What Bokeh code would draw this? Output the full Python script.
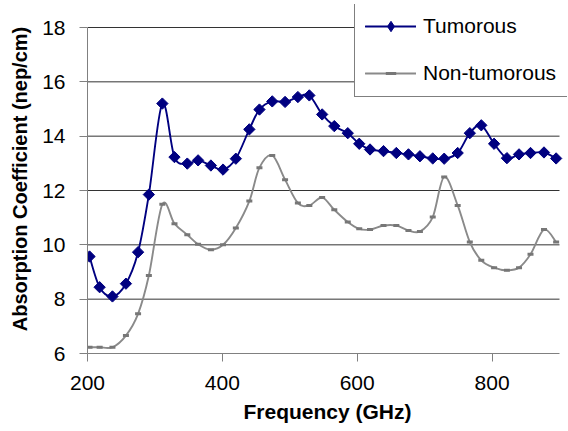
import numpy as np
from bokeh.plotting import figure
from bokeh.models import Range1d, FixedTicker, Legend, LegendItem, ColumnDataSource
from bokeh.embed import file_html
from bokeh.resources import INLINE

# ---- data ----
freq_ghz = [203, 218, 237, 257, 275, 291, 311, 329, 348, 364, 383, 401, 420,
            440, 455, 474, 493, 512, 529, 548, 566, 586, 603, 619, 639, 658,
            676, 693, 712, 729, 749, 767, 784, 803, 822, 840, 857, 877, 895]
tumorous = [9.57, 8.44, 8.10, 8.57, 9.73, 11.85, 15.20, 13.23, 12.99, 13.11,
            12.92, 12.77, 13.17, 14.25, 14.98, 15.28, 15.26, 15.44, 15.50,
            14.80, 14.37, 14.11, 13.72, 13.51, 13.45, 13.38, 13.33, 13.26,
            13.18, 13.17, 13.38, 14.11, 14.40, 13.72, 13.19, 13.33, 13.38,
            13.40, 13.18]
non_tumorous = [6.23, 6.23, 6.23, 6.66, 7.46, 8.87, 11.49, 10.78, 10.37, 10.02,
                9.82, 10.00, 10.62, 11.61, 12.84, 13.29, 12.40, 11.54, 11.45,
                11.74, 11.29, 10.84, 10.59, 10.56, 10.71, 10.71, 10.53, 10.49,
                11.02, 12.50, 11.45, 10.10, 9.43, 9.16, 9.06, 9.16, 9.65,
                10.56, 10.10]
x_ticks = [200, 400, 600, 800]
y_ticks = [6, 8, 10, 12, 14, 16, 18]
series_names = ["Tumorous", "Non-tumorous"]

# axis spans (the plotting area of the original chart)
X_MIN, X_MAX = 200, 900
Y_MIN, Y_MAX = 6, 18
# the frame is stretched a little up/right so that the legend box, which sits
# partly above/right of the axes in the original, is not clipped
X_VIEW_MAX = X_MIN + (X_MAX - X_MIN) * 480 / 472
Y_VIEW_MAX = Y_MIN + (Y_MAX - Y_MIN) * 349 / 326

FONT = "Liberation Sans"
NAVY = "#000080"


def smooth_source(x, y):
    """Bezier segments through the data points (Excel-like smoothed line)."""
    x = np.asarray(x, float)
    y = np.asarray(y, float)
    n = len(x)
    xp = np.concatenate([[x[0]], x, [x[-1]]])
    yp = np.concatenate([[y[0]], y, [y[-1]]])
    return ColumnDataSource(dict(
        x0=x[:-1], y0=y[:-1], x1=x[1:], y1=y[1:],
        cx0=x[:-1] + (xp[2:n + 1] - xp[0:n - 1]) / 6.0,
        cy0=y[:-1] + (yp[2:n + 1] - yp[0:n - 1]) / 6.0,
        cx1=x[1:] - (xp[3:n + 2] - xp[1:n]) / 6.0,
        cy1=y[1:] - (yp[3:n + 2] - yp[1:n]) / 6.0,
    ))


p = figure(width=568, height=431, output_backend="svg", toolbar_location=None,
           x_range=Range1d(X_MIN, X_VIEW_MAX), y_range=Range1d(Y_MIN, Y_VIEW_MAX),
           min_border_left=87, min_border_right=1,
           min_border_top=4, min_border_bottom=78)
p.outline_line_color = None
p.background_fill_color = "white"
p.border_fill_color = "white"

p.xgrid.visible = False
p.ygrid.visible = False
grid_levels = [v for v in y_ticks if v != Y_MIN]
p.segment(x0=[X_MIN] * len(grid_levels), x1=[X_MAX] * len(grid_levels),
          y0=grid_levels, y1=grid_levels, line_color="#333333", line_width=1)

p.xaxis.ticker = FixedTicker(ticks=x_ticks)
p.yaxis.ticker = FixedTicker(ticks=y_ticks)
p.xaxis.bounds = (X_MIN, X_MAX)
p.yaxis.bounds = (Y_MIN, Y_MAX)
for ax in (p.xaxis, p.yaxis):
    ax.axis_line_color = "#808080"
    ax.axis_line_width = 1
    ax.major_tick_line_color = "#808080"
    ax.major_tick_out = 8
    ax.major_tick_in = 0
    ax.minor_tick_line_color = None
    ax.major_label_text_font = FONT
    ax.major_label_text_font_size = "21px"
    ax.major_label_text_color = "black"
    ax.axis_label_text_font = FONT
    ax.axis_label_text_font_style = "bold"
    ax.axis_label_text_color = "black"

p.xaxis.axis_label = "Frequency (GHz)"
p.xaxis.axis_label_text_font_size = "21px"
p.xaxis.major_label_standoff = 14
p.xaxis.axis_label_standoff = 7
p.yaxis.axis_label = "Absorption Coefficient (nep/cm)"
p.yaxis.axis_label_text_font_size = "20px"
p.yaxis.major_label_standoff = 14
p.yaxis.axis_label_standoff = 8

# Tumorous
t_curve = p.bezier("x0", "y0", "x1", "y1", "cx0", "cy0", "cx1", "cy1",
                   source=smooth_source(freq_ghz, tumorous),
                   line_color=NAVY, line_width=1.9, line_cap="round")
t_pts = p.scatter(freq_ghz, tumorous, marker="square", angle=np.pi / 4, size=8,
                  fill_color=NAVY, line_color=NAVY)
# legend swatch: a diamond key (zero size in the plot, sized by the legend)
t_key = p.scatter(freq_ghz, tumorous, marker="diamond", size=0,
                  fill_color=NAVY, line_color=NAVY)

# Non-tumorous
n_curve = p.bezier("x0", "y0", "x1", "y1", "cx0", "cy0", "cx1", "cy1",
                   source=smooth_source(freq_ghz, non_tumorous),
                   line_color="#8a8a8a", line_width=1.9, line_cap="round")
n_pts = p.scatter(freq_ghz, non_tumorous, marker="dash", size=6, line_width=3,
                  line_color="#777777")

legend = Legend(items=[LegendItem(label=series_names[0], renderers=[t_curve, t_key]),
                       LegendItem(label=series_names[1], renderers=[n_curve, n_pts])],
                location=(267, 256), margin=0, padding=10, spacing=21,
                glyph_width=51, glyph_height=26, label_height=26, label_width=135,
                label_standoff=7,
                label_text_font=FONT, label_text_font_size="21px",
                label_text_color="black",
                border_line_color="black", border_line_width=1,
                background_fill_color="white", background_fill_alpha=1.0)
p.add_layout(legend)

open("out.html", "w").write(file_html(p, INLINE))
